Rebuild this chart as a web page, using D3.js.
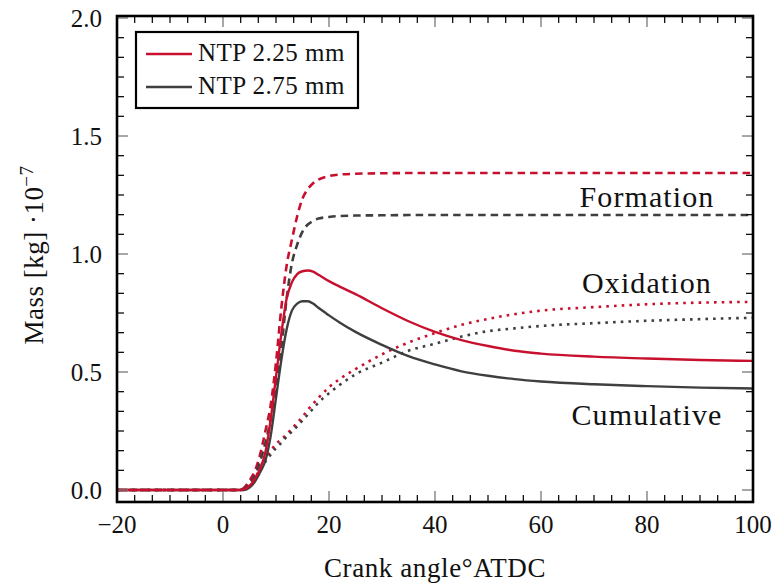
<!DOCTYPE html>
<html>
<head>
<meta charset="utf-8">
<script src="https://cdn.jsdelivr.net/npm/d3@7"></script>
<style>
  body { margin: 0; background: #fff; }
  svg text { font-family: "Liberation Serif", serif; fill: #111; }
</style>
</head>
<body>
<svg id="chart" width="775" height="588"></svg>
<script>
// crank angle samples (deg ATDC)
const angle = [-20, -10, 0, 3, 4, 5, 6, 7, 8, 9, 10, 11, 12, 13, 14, 15, 16, 17, 18, 20, 22, 25, 30, 35, 40, 45, 50, 55, 60, 70, 80, 90, 100]

// NTP 2.25 mm
const cumRed  = [0, 0, 0, 0, 0.004, 0.018, 0.045, 0.09, 0.16, 0.3, 0.48, 0.66, 0.81, 0.88, 0.915, 0.927, 0.93, 0.925, 0.912, 0.885, 0.862, 0.83, 0.77, 0.715, 0.67, 0.635, 0.61, 0.59, 0.578, 0.565, 0.557, 0.551, 0.547]
const formRed = [0, 0, 0, 0, 0.01, 0.04, 0.08, 0.15, 0.25, 0.36, 0.54, 0.77, 0.95, 1.06, 1.16, 1.235, 1.275, 1.3, 1.315, 1.33, 1.337, 1.34, 1.342, 1.343, 1.343, 1.343, 1.343, 1.343, 1.343, 1.343, 1.343, 1.343, 1.343]
const oxRed   = [0, 0, 0, 0, 0.004, 0.02, 0.05, 0.09, 0.13, 0.165, 0.195, 0.215, 0.235, 0.26, 0.285, 0.31, 0.34, 0.365, 0.39, 0.435, 0.47, 0.512, 0.575, 0.625, 0.665, 0.7, 0.725, 0.745, 0.76, 0.775, 0.787, 0.794, 0.797]

// NTP 2.75 mm
const cumGrey  = [0, 0, 0, 0, 0, 0.01, 0.035, 0.075, 0.125, 0.23, 0.39, 0.55, 0.68, 0.76, 0.79, 0.8, 0.8, 0.79, 0.772, 0.74, 0.71, 0.67, 0.615, 0.567, 0.532, 0.503, 0.484, 0.47, 0.46, 0.448, 0.44, 0.434, 0.43]
const formGrey = [0, 0, 0, 0, 0.005, 0.03, 0.06, 0.12, 0.2, 0.3, 0.44, 0.6, 0.81, 0.96, 1.04, 1.095, 1.125, 1.14, 1.15, 1.157, 1.161, 1.163, 1.164, 1.165, 1.165, 1.165, 1.165, 1.165, 1.165, 1.165, 1.165, 1.165, 1.165]
const oxGrey   = [0, 0, 0, 0, 0.003, 0.015, 0.04, 0.08, 0.12, 0.15, 0.178, 0.2, 0.225, 0.248, 0.27, 0.295, 0.32, 0.345, 0.37, 0.41, 0.445, 0.49, 0.54, 0.59, 0.62, 0.65, 0.673, 0.685, 0.695, 0.707, 0.717, 0.724, 0.73]

const xTicks = [-20, 0, 20, 40, 60, 80, 100]
const yTicks = [0, 0.5, 1.0, 1.5, 2.0]
const legendLabels = ['NTP 2.25 mm', 'NTP 2.75 mm']
const noteLabels = ['Formation', 'Oxidation', 'Cumulative']

const red = '#c8102e'
const grey = '#3f3f3f'

const svg = d3.select('#chart')
const pLeft = 117, pRight = 753, pTop = 16, pBottom = 502

const x = d3.scaleLinear().domain([-20, 100]).range([pLeft, pRight])
const y = d3.scaleLinear().domain([-0.0508, 2.0085]).range([pBottom, pTop])

svg.append('clipPath').attr('id', 'clip')
  .append('rect').attr('x', pLeft).attr('y', pTop).attr('width', pRight - pLeft).attr('height', pBottom - pTop)

const line = d3.line().x(d => x(d[0])).y(d => y(d[1])).curve(d3.curveMonotoneX)
const pts = vals => angle.map((a, i) => [a, vals[i]])

const series = [
  { v: formRed, c: red, dash: '7.5,5', w: 2.6 },
  { v: formGrey, c: grey, dash: '7.5,5', w: 2.6 },
  { v: oxRed, c: red, dash: '2.6,5.1', w: 2.6 },
  { v: oxGrey, c: grey, dash: '2.6,5.1', w: 2.6 },
  { v: cumGrey, c: grey, dash: null, w: 2.4 },
  { v: cumRed, c: red, dash: null, w: 2.4 }
]

const g = svg.append('g').attr('clip-path', 'url(#clip)')
series.forEach(s => {
  g.append('path')
    .attr('d', line(pts(s.v)))
    .attr('fill', 'none')
    .attr('stroke', s.c)
    .attr('stroke-width', s.w)
    .attr('stroke-dasharray', s.dash)
})

// ticks on all four sides, pointing inward
const minorX = d3.range(-20, 100.01, 20 / 6)
const minorY = d3.range(0, 2.0, 0.5 / 6)
const ticks = svg.append('g')
minorX.forEach(v => {
  const major = xTicks.some(t => Math.abs(t - v) < 1e-6)
  const len = major ? 11 : 7
  const col = major ? '#777' : '#111'
  ticks.append('line').attr('x1', x(v)).attr('x2', x(v)).attr('y1', pBottom).attr('y2', pBottom - len).attr('stroke', col).attr('stroke-width', 1.3)
  ticks.append('line').attr('x1', x(v)).attr('x2', x(v)).attr('y1', pTop).attr('y2', pTop + len).attr('stroke', col).attr('stroke-width', 1.3)
})
minorY.concat([2.0]).forEach(v => {
  const major = yTicks.some(t => Math.abs(t - v) < 1e-6)
  const len = major ? 11 : 7
  const col = major ? '#777' : '#111'
  ticks.append('line').attr('y1', y(v)).attr('y2', y(v)).attr('x1', pLeft).attr('x2', pLeft + len).attr('stroke', col).attr('stroke-width', 1.3)
  ticks.append('line').attr('y1', y(v)).attr('y2', y(v)).attr('x1', pRight).attr('x2', pRight - len).attr('stroke', col).attr('stroke-width', 1.3)
})

// frame
svg.append('rect').attr('x', pLeft).attr('y', pTop).attr('width', pRight - pLeft).attr('height', pBottom - pTop)
  .attr('fill', 'none').attr('stroke', '#000').attr('stroke-width', 2.6)

// tick labels
const fx = d3.format('d')
const fy = d3.format('.1f')
svg.append('g').selectAll('text').data(xTicks).join('text')
  .attr('x', d => x(d)).attr('y', 533)
  .attr('text-anchor', 'middle').attr('font-size', 25)
  .text(d => fx(d))
svg.append('g').selectAll('text').data(yTicks).join('text')
  .attr('x', 102).attr('y', d => y(d) + 8.5)
  .attr('text-anchor', 'end').attr('font-size', 25)
  .text(d => fy(d))

// axis titles
svg.append('text').attr('x', 435).attr('y', 577).attr('text-anchor', 'middle')
  .attr('font-size', 27).attr('letter-spacing', 0.6)
  .text('Crank angle°ATDC')
const yl = svg.append('text').attr('transform', 'translate(43,255) rotate(-90)')
  .attr('text-anchor', 'middle').attr('font-size', 27).attr('letter-spacing', 0.5)
yl.append('tspan').text('Mass [kg] ·10')
yl.append('tspan').attr('dy', -10).attr('font-size', 19).text('−7')

// annotations, placed in data units between the curves
const noteY = [1.199, 0.835, 0.275]
svg.append('g').selectAll('text').data(noteLabels).join('text')
  .attr('x', 647).attr('y', (d, i) => y(noteY[i]))
  .attr('text-anchor', 'middle').attr('font-size', 30).attr('letter-spacing', 1.1)
  .text(d => d)

// legend
const lg = svg.append('g')
lg.append('rect').attr('x', 136).attr('y', 32).attr('width', 222).attr('height', 76)
  .attr('fill', '#fff').attr('stroke', '#000').attr('stroke-width', 2.2)
legendLabels.forEach((t, i) => {
  const yy = 54 + i * 33
  lg.append('line').attr('x1', 146).attr('x2', 192).attr('y1', yy).attr('y2', yy)
    .attr('stroke', i === 0 ? red : grey).attr('stroke-width', 2.4)
  lg.append('text').attr('x', 198).attr('y', yy + 7).attr('font-size', 25).attr('letter-spacing', 0.5).text(t)
})
</script>
</body>
</html>
